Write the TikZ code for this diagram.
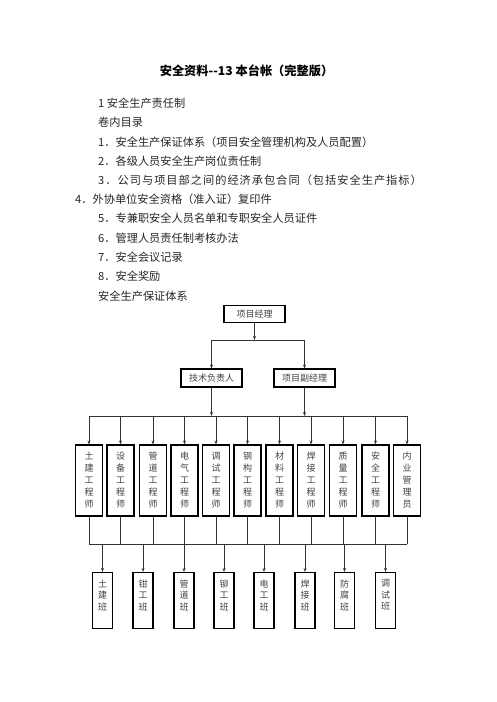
\documentclass[tikz,border=0pt]{standalone}
\usepackage{fontspec}
\setmainfont{Noto Sans CJK SC}
\usetikzlibrary{arrows.meta}

\begin{document}
\begin{tikzpicture}[x=1pt, y=-1pt, >={Stealth[length=4pt,width=3pt]},
  link/.style = {line width=0.6pt, draw=black!80},
  box/.style = {draw, line width=1.1pt, inner sep=0pt, text=black!75, font=\fontsize{9}{9}\selectfont},
  head/.style = {box, minimum width=61pt, minimum height=17pt},
  eng/.style = {box, minimum width=27pt, minimum height=71pt, align=center, font=\fontsize{9}{12}\selectfont},
  team/.style = {box, minimum width=20pt, minimum height=56pt, align=center, font=\fontsize{9}{11.5}\selectfont},
  item/.style = {anchor=west, inner sep=0pt, text=black!85, font=\fontsize{11.2}{11.2}\selectfont}]
  \useasboundingbox (0,0) rectangle (496,702);

  % title and contents
  \node[inner sep=0pt, font=\fontsize{12.2}{12.2}\selectfont\bfseries] (title) at (246.5,71) {安全资料-{}-13 本台帐（完整版）};
  \node[item] (l0) at (98,103) {1 安全生产责任制};
  \node[item] (l1) at (98,122) {卷内目录};
  \node[item] (l2) at (98,142) {1．安全生产保证体系（项目安全管理机构及人员配置）};
  \node[item] (l3) at (98,161) {2．各级人员安全生产岗位责任制};
  \node[item] (l4) at (98,180) {\addfontfeatures{LetterSpace=9}3．公司与项目部之间的经济承包合同（包括安全生产指标）};
  \node[item] (l5) at (75,199) {4．外协单位安全资格（准入证）复印件};
  \node[item] (l6) at (98,218) {5．专兼职安全人员名单和专职安全人员证件};
  \node[item] (l7) at (98,238) {6．管理人员责任制考核办法};
  \node[item] (l8) at (98,257) {7．安全会议记录};
  \node[item] (l9) at (98,276) {8．安全奖励};
  \node[item] (l10) at (98,296) {安全生产保证体系};

  % chart
  \node[head] (pm) at (254.5,314) {项目经理};
  \node[head, minimum height=18pt] (tech) at (211.5,378) {技术负责人};
  \node[head, minimum height=18pt] (deputy) at (304.5,378) {项目副经理};

  \node[eng] (e1) at (89,480.5) {土\\建\\工\\程\\师};
  \node[eng] (e2) at (120.5,480.5) {设\\备\\工\\程\\师};
  \node[eng] (e3) at (153,480.5) {管\\道\\工\\程\\师};
  \node[eng] (e4) at (184.5,480.5) {电\\气\\工\\程\\师};
  \node[eng] (e5) at (216,480.5) {调\\试\\工\\程\\师};
  \node[eng] (e6) at (247.5,480.5) {钢\\构\\工\\程\\师};
  \node[eng] (e7) at (279.5,480.5) {材\\料\\工\\程\\师};
  \node[eng] (e8) at (311,480.5) {焊\\接\\工\\程\\师};
  \node[eng] (e9) at (343,480.5) {质\\量\\工\\程\\师};
  \node[eng] (e10) at (375.5,480.5) {安\\全\\工\\程\\师};
  \node[eng] (e11) at (407,480.5) {内\\业\\管\\理\\员};

  \node[team] (t1) at (102.5,600.5) {土\\建\\班\\~};
  \node[team] (t2) at (143,600.5) {钳\\工\\班\\~};
  \node[team] (t3) at (184,600.5) {管\\道\\班\\~};
  \node[team] (t4) at (224,600.5) {铆\\工\\班\\~};
  \node[team] (t5) at (264,600.5) {电\\工\\班\\~};
  \node[team] (t6) at (305,600.5) {焊\\接\\班\\~};
  \node[team] (t7) at (344.5,600.5) {防\\腐\\班\\~};
  \node[team] (t8) at (385.5,600.5) {调\\试\\班\\~};

  \coordinate (split) at (254.5,340);
  \coordinate (bus1) at (254.5,416);
  \coordinate (bus2) at (254.5,544);

  \draw[link, ->] (pm) -- (split);
  \draw[link] (tech |- split) -- (deputy |- split);
  \draw[link, ->] (tech |- split) -- (tech);
  \draw[link, ->] (deputy |- split) -- (deputy);
  \draw[link, ->] (tech) -- (tech |- bus1);
  \draw[link, ->] (deputy) -- (deputy |- bus1);

  \draw[link] (e1 |- bus1) -- (e11 |- bus1);
  \foreach \n in {1,...,11} {
    \draw[link, ->] (e\n |- bus1) -- (e\n);
    \draw[link] (e\n) -- (e\n |- bus2);
  }
  \draw[link] (e1 |- bus2) -- (e11 |- bus2);
  \foreach \n in {1,...,8}
    \draw[link, ->] (t\n |- bus2) -- (t\n);
\end{tikzpicture}
\end{document}
